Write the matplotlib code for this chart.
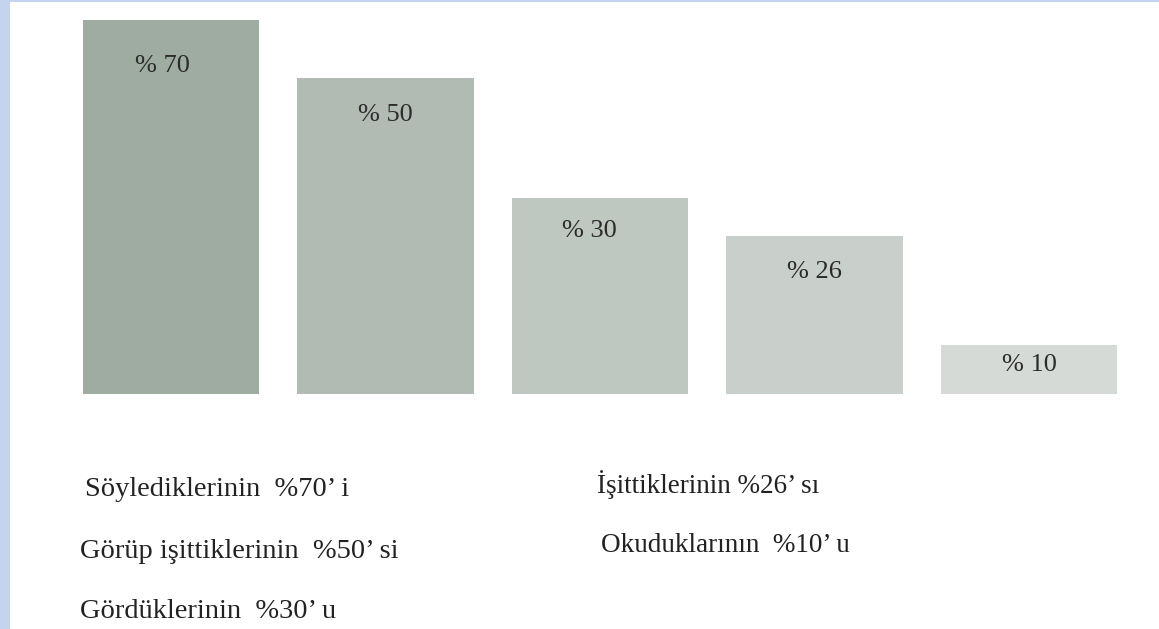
import matplotlib.pyplot as plt
from matplotlib.patches import Rectangle

# bar labels and the heights the bars are drawn at (read off the picture,
# on the scale where the first bar is 70)
labels = ["% 70", "% 50", "% 30", "% 26", "% 10"]
heights = [70, 59.2, 36.6, 29.5, 9.2]
colors = ["#9eaca2", "#b1bab3", "#bfc7c1", "#c9cfcb", "#d5dad6"]

left_notes = ["Söylediklerinin  %70’ i",
              "Görüp işittiklerinin  %50’ si",
              "Gördüklerinin  %30’ u"]
right_notes = ["İşittiklerinin %26’ sı",
               "Okuduklarının  %10’ u"]

W, H = 1159, 629
fig = plt.figure(figsize=(W / 100, H / 100), dpi=100)
fig.patch.set_facecolor("white")

# light blue page border on the left and top
fig.add_artist(Rectangle((0, 0), 10 / W, 1, transform=fig.transFigure,
                         facecolor="#c6d3ee", edgecolor="none"))
fig.add_artist(Rectangle((0, 1 - 2 / H), 1, 2 / H, transform=fig.transFigure,
                         facecolor="#c6d3ee", edgecolor="none"))

# bars: baseline at y=394px, top of first bar at y=20px
ax = fig.add_axes([0, (H - 394) / H, 1, 374 / H])
x = list(range(len(heights)))
ax.bar(x, heights, width=0.825, color=colors, edgecolor="none")
ax.set_xlim(-171 / 214.5, (W - 171) / 214.5)
ax.set_ylim(0, 70)
ax.axis("off")

# offset of each label below the bar top (in data units)
label_drop = [8.6, 6.9, 6.0, 6.6, 3.8]
label_shift = [-0.04, 0.0, -0.05, 0.0, 0.0]
for i, (h, lab) in enumerate(zip(heights, labels)):
    ax.text(i + label_shift[i], h - label_drop[i], lab, ha="center", va="center",
            fontsize=19, family="Liberation Serif", color="#2b2b2b")

serif = dict(family="Liberation Serif", color="#222222", va="center")
left_y = [490, 552, 612]
for t, yy, xx in zip(left_notes, left_y, [85, 80, 80]):
    fig.text(xx / W, 1 - yy / H, t, fontsize=20.5, **serif)
right_y = [485, 546]
for t, yy, xx in zip(right_notes, right_y, [597, 601]):
    fig.text(xx / W, 1 - yy / H, t, fontsize=19.5, **serif)

fig.savefig("out.png", dpi=100)
